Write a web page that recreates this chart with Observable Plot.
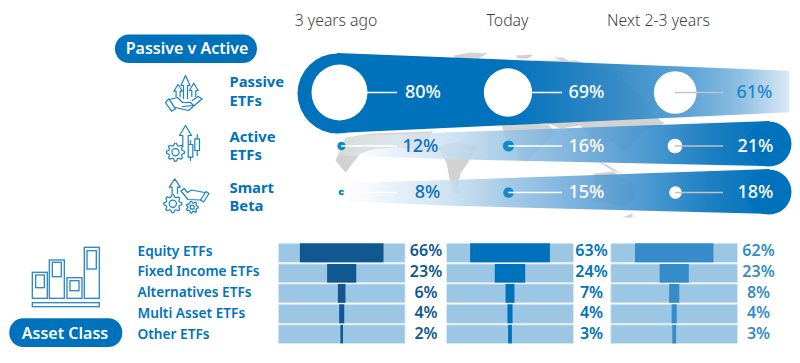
<!DOCTYPE html>
<html><head><meta charset="utf-8">
<script src="https://cdn.jsdelivr.net/npm/d3@7"></script>
<script src="https://cdn.jsdelivr.net/npm/@observablehq/plot@0.6"></script>
<style>html,body{margin:0;padding:0;background:#fff}svg{display:block}</style>
</head><body><div id="chart"></div>
<script>
// ---- data ----
const periods = ["3 years ago", "Today", "Next 2-3 years"];
const etfTitles = [["Passive", "ETFs"], ["Active", "ETFs"], ["Smart", "Beta"]];
const passiveEtfs = [80, 69, 61];
const activeEtfs = [12, 16, 21];
const smartBeta = [8, 15, 18];
const assetClasses = ["Equity ETFs", "Fixed Income ETFs", "Alternatives ETFs", "Multi Asset ETFs", "Other ETFs"];
const assetThreeYearsAgo = [66, 23, 6, 4, 2];
const assetToday = [63, 24, 7, 4, 3];
const assetNext = [62, 23, 8, 4, 3];

// ---- layout ----
const blue = "#0072bc";
const font = "Noto Sans";
const headerX = [335.5, 507, 658];
const dotX = [[339, 507.5, 674.7], [341, 508, 674.5], [341, 508, 675]];
const rowY = [92, 145.5, 192];
const leaderEnd = [397, 562, 723];
const pctX = [[422.5, 586, 754], [420, 586, 755], [427, 586, 755]];
const titleY = [[82, 101], [136.8, 155.2], [187.8, 206.2]];
const colCentre = [341.7, 510, 674.2];
const colWidth = 126.7;                 // a full track is 100%
const valueX = [425.5, 591, 758];
const assetColor = ["#10588f", blue, "#368cc8"];
const rowBands = [[243.3, 262.3], [264, 282.6], [284, 302.8], [304.3, 323.3], [324.9, 343.4]];
const labelY = [250.7, 271.5, 292.1, 312.8, 333.7];

const periodRows = periods.map((p, i) => ({p, x: headerX[i]}));
const series = [passiveEtfs, activeEtfs, smartBeta];
const dots = series.flatMap((vals, r) => vals.map((v, c) => ({
  v, r, c, x: dotX[r][c], y: rowY[r],
  fill: (r > 0 && c < 2) ? "#1388cb" : "#fff",
  stroke: c === 2 ? "#c2c2c2" : "#fff",
  end: leaderEnd[c],
  tx: pctX[r][c],
  tfill: r === 0 ? (c === 2 ? "#1f88cb" : "#fff") : (c === 0 ? "#0d6fb8" : "#fff")
})));
const titles = etfTitles.flatMap((t, r) => t.map((s, i) => ({s, y: titleY[r][i]})));
const assets = [assetThreeYearsAgo, assetToday, assetNext].flatMap((vals, c) => vals.map((v, i) => ({
  v, c, y1: rowBands[i][0], y2: rowBands[i][1], cx: colCentre[c], ly: labelY[i], lx: valueX[c]
})));
const halfBar = d => d.v / 100 * colWidth / 2;

// band outlines
const bandPassive = [{x: 337, t: 53, b: 133}, {x: 789, t: 70.7, b: 112.3}];
const bandActive = [{x: 325, t: 136.8, b: 155}, {x: 450, t: 132.3, b: 159.3}, {x: 769, t: 121, b: 166}];
const bandSmart = [{x: 320, t: 184, b: 200}, {x: 450, t: 180, b: 205.7}, {x: 769, t: 169, b: 214}];
const caps = [{x: 337, y: 93}, {x: 768.5, y: 143.5}, {x: 768.5, y: 191.5}];

// backdrop world map (rough)
const landShapes = [
  [[345,137],[372,133],[432,131],[423,148],[437,147],[430,151],[397,147],[372,149],[360,153],[345,172],[335,160]],
  [[437,147],[453,142],[477,145],[467,163],[460,173],[457,188],[461,193],[453,193],[449,178],[446,162]],
  [[453,55],[470,52],[487,53],[478,58],[455,58]],
  [[515,55],[533,54],[528,58],[517,58]],
  [[553,57],[562,57],[572,62],[565,62]],
  [[505,100],[510,75],[535,60],[575,60],[615,72],[640,95],[650,112],[664,123],[642,130],[626,152],[607,138],[601,152],[590,138],[580,125],[560,128],[540,120],[520,112]],
  [[500,122],[548,124],[555,133],[535,152],[527,161],[519,160],[516,147],[505,136]],
  [[593,173],[613,171],[622,178],[633,183],[634,197],[623,207],[607,203],[593,200]],
  [[597,161],[606,164],[622,174],[612,170]],
  [[622,217],[632,213],[632,217]]
];
const land = landShapes.flatMap((s, id) => s.map(([x, y]) => ({id, x, y})));

// icon helpers
const gear = (cx, cy, R, r, n) => {
  const pts = [];
  for (let i = 0; i <= n * 4; i++) {
    const a = i / (n * 4) * 2 * Math.PI - Math.PI / (n * 4);
    const rad = (i % 4 < 2) ? R : r;
    pts.push([cx + rad * Math.cos(a), cy + rad * Math.sin(a)]);
  }
  return pts;
};
const arrow = (tx, ty, hw, sw, hy, by) => [[tx - sw, by], [tx - sw, hy], [tx - hw, hy], [tx, ty], [tx + hw, hy], [tx + sw, hy], [tx + sw, by]];
const iconPaths = [
  // passive: three arrows and a hand
  arrow(185, 75, 4.5, 2, 85, 98),
  arrow(177.6, 84, 4.3, 2, 90.7, 96),
  arrow(193.3, 82.7, 4.4, 2, 90, 96),
  [[165, 102], [168.3, 98.3], [175, 108.3], [171, 110.7], [165, 102]],
  [[169, 99], [177, 97], [182, 102], [190, 102], [193, 105], [182, 106]],
  [[175, 107], [188, 110], [201.7, 98.3], [197.7, 96], [191.7, 100]],
  // active: arrow, gear, candles
  [[182.3, 146], [182.3, 135], [179, 135], [185, 125], [191, 135], [187.7, 135], [187.7, 143]],
  gear(175, 151.7, 9, 6.8, 8),
  [[187.7, 144], [192.3, 144], [192.3, 156.7], [187.7, 156.7], [187.7, 144]],
  [[190, 140], [190, 144]], [[190, 156.7], [190, 160]],
  [[194.3, 138.3], [199, 138.3], [199, 150], [194.3, 150], [194.3, 138.3]],
  [[196.7, 134], [196.7, 138.3]], [[196.7, 150], [196.7, 155]],
  // smart beta: arrow, hand, gears
  arrow(174.3, 178.3, 5.5, 2.7, 186.7, 193),
  [[200, 199.5], [205.5, 191], [208.5, 193], [203, 201.5], [200, 199.5]],
  [[204, 192], [191, 189.5], [187, 192], [183.5, 188], [180.5, 190.5], [187.5, 199], [200.5, 199.5]],
  gear(172.3, 203.3, 9, 6.8, 8),
  gear(191.7, 206.7, 6, 4.4, 7)
];
const iconPts = iconPaths.flatMap((p, id) => p.map(([x, y]) => ({id, x, y})));
const iconRings = [
  {x: 175, y: 151.7, r: 3.6}, {x: 172.3, y: 203.3, r: 3.6}, {x: 191.7, y: 206.7, r: 2}
];
const assetIconRects = [
  [32.3, 47.3, 272.3, 298.3], [35.7, 44.3, 275, 287.7],
  [49.3, 64.3, 260, 298.3], [52.3, 61.3, 262.3, 276.7],
  [67, 82, 277.7, 298.3], [70, 79, 280.7, 290.7],
  [84.3, 99.3, 247.3, 298.3], [87, 96.3, 250.7, 269],
  [32.3, 99.3, 302.7, 306.7]
].map(([x1, x2, y1, y2]) => ({x1, x2, y1, y2}));

const pills = [
  {s: "Passive v Active", x1: 115, x2: 257, y1: 34.5, y2: 63, tx: 186.5, ty: 48},
  {s: "Asset Class", x1: 9.3, x2: 122.3, y1: 318.3, y2: 347, tx: 64.5, ty: 333}
];

// gradient definitions, added through a render mark
const gradients = () => {
  const defs = d3.create("svg:defs");
  const add = (id, x1, x2, stops) => {
    const g = defs.append("linearGradient").attr("id", id)
      .attr("gradientUnits", "userSpaceOnUse").attr("x1", x1).attr("x2", x2).attr("y1", 0).attr("y2", 0);
    stops.forEach(([o, c, a]) => g.append("stop").attr("offset", o).attr("stop-color", c).attr("stop-opacity", a));
  };
  add("gPassive", 337, 789, [[0, blue, 1], [0.38, blue, 1], [0.6, "#2a85c4", 0.95], [0.78, "#4f9cd3", 0.92], [0.89, "#86bbe0", 0.95], [1, "#d9e8f4", 0.95]]);
  const fade = [[0, "#fff", 0], [0.17, "#dcebf6", 0.75], [0.29, "#c6ddef", 0.85], [0.4, "#9fc7e5", 0.88], [0.55, "#6fabda", 0.88], [0.72, "#3f92cd", 0.92], [0.87, "#1c7fc2", 1], [1, blue, 1]];
  add("gActive", 325, 769, fade);
  add("gSmart", 320, 769, fade);
  return defs.node();
};

const plot = Plot.plot({
  width: 800, height: 363,
  marginTop: 0, marginRight: 0, marginBottom: 0, marginLeft: 0,
  x: {domain: [0, 800], range: [0, 800], axis: null},
  y: {domain: [0, 363], range: [0, 363], axis: null},
  r: {type: "linear", domain: [0, 80], range: [0, 28]},
  style: {fontFamily: font, background: "#fff"},
  marks: [
    gradients,
    // world map behind the bands
    Plot.line(land, {x: "x", y: "y", z: "id", fill: "#d2d2d2", stroke: "none", curve: "linear"}),
    // bands
    Plot.dot(caps.slice(0, 1), {x: "x", y: "y", r: 40, fill: blue}),
    Plot.area(bandPassive, {x1: "x", y1: "t", y2: "b", fill: "url(#gPassive)"}),
    Plot.area(bandActive, {x1: "x", y1: "t", y2: "b", fill: "url(#gActive)"}),
    Plot.dot(caps.slice(1, 2), {x: "x", y: "y", r: 22.5, fill: blue}),
    Plot.area(bandSmart, {x1: "x", y1: "t", y2: "b", fill: "url(#gSmart)"}),
    Plot.dot(caps.slice(2), {x: "x", y: "y", r: 22.5, fill: blue}),
    // values on the bands
    Plot.dot(dots, {x: "x", y: "y", r: "v", fill: d => d.fill, stroke: "none"}),
    Plot.ruleY(dots, {y: "y", x1: "x", x2: "end", stroke: d => d.stroke, strokeWidth: 1.4}),
    Plot.text(dots, {x: "tx", y: "y", text: d => d.v + "%", fill: d => d.tfill, fontSize: 18, fontWeight: 500}),
    // headers and pills
    Plot.text(periodRows, {x: "x", y: 20, text: "p", fontSize: 15.8, fontWeight: 300, fill: "#3f3f3f"}),
    Plot.rect(pills, {x1: "x1", x2: "x2", y1: "y1", y2: "y2", fill: blue, rx: 14}),
    Plot.text(pills, {x: "tx", y: "ty", text: "s", fill: "#fff", fontSize: 16, fontWeight: 600}),
    // row titles
    Plot.text(titles, {x: 229, y: "y", text: "s", textAnchor: "start", fill: blue, fontSize: 14.8, fontWeight: 700}),
    // icons
    Plot.line(iconPts, {x: "x", y: "y", z: "id", stroke: "#1a80c4", strokeWidth: 1.2, fill: "none", curve: "linear"}),
    Plot.dot(iconRings, {x: "x", y: "y", r: d => d.r * 80 / 28, stroke: "#1a80c4", strokeWidth: 1.2, fill: "none"}),
    Plot.rect(assetIconRects, {x1: "x1", x2: "x2", y1: "y1", y2: "y2", stroke: "#2585c6", strokeWidth: 1.3, fill: "none"}),
    // asset class table
    Plot.text(assetClasses, {x: 137, y: (d, i) => labelY[i], text: d => d, textAnchor: "start", fill: blue, fontSize: 13.7, fontWeight: 600}),
    Plot.rect(assets, {x1: d => d.cx - colWidth / 2, x2: d => d.cx + colWidth / 2, y1: "y1", y2: "y2", fill: "#9bc6e4", stroke: "#d7e8f5", strokeWidth: 0.8}),
    Plot.rect(assets, {x1: d => d.cx - halfBar(d), x2: d => d.cx + halfBar(d), y1: "y1", y2: "y2", fill: d => assetColor[d.c]}),
    Plot.text(assets, {x: "lx", y: "ly", text: d => d.v + "%", fill: d => assetColor[d.c], fontSize: 16, fontWeight: 600})
  ]
});
document.getElementById("chart").append(plot);
</script></body></html>
